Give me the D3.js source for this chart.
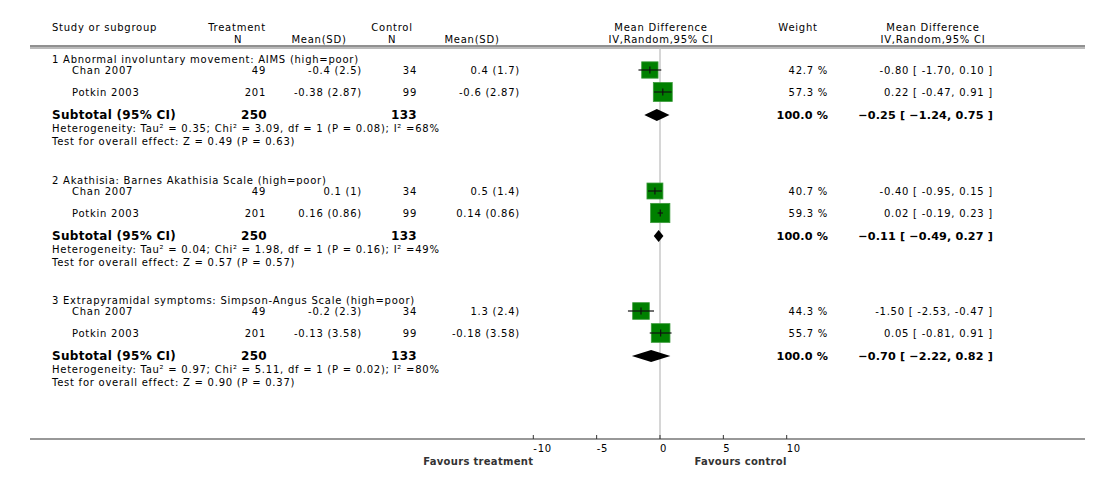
<!DOCTYPE html>
<html>
<head>
<meta charset="utf-8">
<script src="https://cdn.jsdelivr.net/npm/d3@7"></script>
<style>
  body { margin: 0; background: #fff; }
  text { font-family: "DejaVu Sans", Verdana, sans-serif; fill: #000; }
  .small { font-size: 10px; letter-spacing: 0.75px; }
  .bold { font-size: 12px; font-weight: bold; letter-spacing: 0.3px; }
  .boldr { font-size: 11.2px; font-weight: bold; letter-spacing: 0.15px; }
</style>
</head>
<body>
<div id="forest"></div>
<script>
// data
const groupTitles = [
    "1 Abnormal involuntary movement: AIMS (high=poor)",
    "2 Akathisia: Barnes Akathisia Scale (high=poor)",
    "3 Extrapyramidal symptoms: Simpson-Angus Scale (high=poor)"
];
const studyNames = ["Chan 2007", "Potkin 2003"];
const treatN = [[49, 201], [49, 201], [49, 201]];
const treatMeanSD = [["-0.4 (2.5)", "-0.38 (2.87)"], ["0.1 (1)", "0.16 (0.86)"], ["-0.2 (2.3)", "-0.13 (3.58)"]];
const controlN = [[34, 99], [34, 99], [34, 99]];
const controlMeanSD = [["0.4 (1.7)", "-0.6 (2.87)"], ["0.5 (1.4)", "0.14 (0.86)"], ["1.3 (2.4)", "-0.18 (3.58)"]];
const weights = [[42.7, 57.3], [40.7, 59.3], [44.3, 55.7]];
const meanDiff = [[-0.80, 0.22], [-0.40, 0.02], [-1.50, 0.05]];
const ciLow = [[-1.70, -0.47], [-0.95, -0.19], [-2.53, -0.81]];
const ciHigh = [[0.10, 0.91], [0.15, 0.23], [-0.47, 0.91]];

const subTreatN = [250, 250, 250];
const subControlN = [133, 133, 133];
const subMD = [-0.25, -0.11, -0.70];
const subLow = [-1.24, -0.49, -2.22];
const subHigh = [0.75, 0.27, 0.82];

const tau2 = ["0.35", "0.04", "0.97"];
const chi2 = ["3.09", "1.98", "5.11"];
const hetDf = [1, 1, 1];
const hetP = ["0.08", "0.16", "0.02"];
const i2 = [68, 49, 80];
const zVal = ["0.49", "0.57", "0.90"];
const zP = ["0.63", "0.57", "0.37"];

const axisTicks = [-10, -5, 0, 5, 10];

function drawForest() {
    const width = 1112, height = 498;
    const svg = d3.select("#forest").append("svg")
        .attr("width", width)
        .attr("height", height);

    const x = d3.scaleLinear().domain([-10, 10]).range([533.3, 786.7]);
    const boxSize = d3.scaleSqrt().domain([0, 100]).range([0, 25]);

    const lineLeft = 30, lineRight = 1085;
    const topY = 47, axisY = 439;
    const groupY = [59, 180, 300];

    const f2 = v => d3.format(".2f")(v).replace("−", "-");
    const f2b = v => d3.format(".2f")(v);

    // header
    const hdr = svg.append("g");
    const headerText = [
        [52, 27, "start", "Study or subgroup"],
        [237, 27, "middle", "Treatment"],
        [238, 39, "middle", "N"],
        [319, 39, "middle", "Mean(SD)"],
        [392, 27, "middle", "Control"],
        [392, 39, "middle", "N"],
        [472, 39, "middle", "Mean(SD)"],
        [661, 27, "middle", "Mean Difference"],
        [661, 39, "middle", "IV,Random,95% CI"],
        [798, 27, "middle", "Weight"],
        [933, 27, "middle", "Mean Difference"],
        [933, 39, "middle", "IV,Random,95% CI"]
    ];
    hdr.selectAll("text").data(headerText).enter().append("text")
        .attr("class", "small")
        .attr("x", d => d[0]).attr("y", d => d[1])
        .attr("text-anchor", d => d[2])
        .attr("dominant-baseline", "central")
        .text(d => d[3]);

    svg.append("line").attr("x1", lineLeft).attr("x2", lineRight)
        .attr("y1", topY - 1).attr("y2", topY - 1).attr("stroke", "#222").attr("stroke-width", 1);
    svg.append("line").attr("x1", lineLeft).attr("x2", lineRight)
        .attr("y1", topY + 1).attr("y2", topY + 1).attr("stroke", "#777").attr("stroke-width", 1);

    // zero line
    svg.append("line").attr("x1", x(0)).attr("x2", x(0))
        .attr("y1", topY + 1.5).attr("y2", axisY)
        .attr("stroke", "#c8c8c8").attr("stroke-width", 1.5);

    groupTitles.forEach(function(title, g) {
        const gy = groupY[g];
        const grp = svg.append("g");

        grp.append("text").attr("class", "small")
            .attr("x", 52).attr("y", gy).attr("dominant-baseline", "central")
            .text(title);

        studyNames.forEach(function(name, i) {
            const ry = gy + (i === 0 ? 11 : 33);
            const cells = [
                [72, "start", name],
                [266, "end", treatN[g][i]],
                [362, "end", treatMeanSD[g][i]],
                [417, "end", controlN[g][i]],
                [520, "end", controlMeanSD[g][i]],
                [828, "end", weights[g][i].toFixed(1) + " %"],
                [993, "end", f2(meanDiff[g][i]) + " [ " + f2(ciLow[g][i]) + ", " + f2(ciHigh[g][i]) + " ]"]
            ];
            cells.forEach(function(c) {
                grp.append("text").attr("class", "small")
                    .attr("x", c[0]).attr("y", ry)
                    .attr("text-anchor", c[1])
                    .attr("dominant-baseline", "central")
                    .text(c[2]);
            });

            const s = boxSize(weights[g][i]);
            const cx = x(meanDiff[g][i]);
            grp.append("rect")
                .attr("x", cx - s / 2).attr("y", ry - s / 2)
                .attr("width", s).attr("height", s)
                .attr("fill", "#008000")
                .attr("stroke", "#3a9a3a").attr("stroke-width", 0.8);
            grp.append("line")
                .attr("x1", x(ciLow[g][i])).attr("x2", x(ciHigh[g][i]))
                .attr("y1", ry).attr("y2", ry)
                .attr("stroke", "#111").attr("stroke-width", 1.2);
            grp.append("line")
                .attr("x1", cx).attr("x2", cx)
                .attr("y1", ry - 3.5).attr("y2", ry + 3.5)
                .attr("stroke", "#111").attr("stroke-width", 1.2);
        });

        // subtotal row
        const sy = gy + 56;
        const subCells = [
            [52, "start", "Subtotal (95% CI)", "bold"],
            [267, "end", subTreatN[g], "bold"],
            [417, "end", subControlN[g], "bold"],
            [828, "end", "100.0 %", "boldr"],
            [993, "end", f2b(subMD[g]) + " [ " + f2b(subLow[g]) + ", " + f2b(subHigh[g]) + " ]", "boldr"]
        ];
        subCells.forEach(function(c) {
            grp.append("text").attr("class", c[3])
                .attr("x", c[0]).attr("y", sy)
                .attr("text-anchor", c[1])
                .attr("dominant-baseline", "central")
                .text(c[2]);
        });

        const dh = 6;
        grp.append("path")
            .attr("d", `M${x(subLow[g])},${sy} L${x(subMD[g])},${sy - dh} L${x(subHigh[g])},${sy} L${x(subMD[g])},${sy + dh} Z`)
            .attr("fill", "#000");

        grp.append("text").attr("class", "small")
            .attr("x", 52).attr("y", sy + 13).attr("dominant-baseline", "central")
            .text("Heterogeneity: Tau² = " + tau2[g] + "; Chi² = " + chi2[g] + ", df = " + hetDf[g] +
                  " (P = " + hetP[g] + "); I² =" + i2[g] + "%");
        grp.append("text").attr("class", "small")
            .attr("x", 52).attr("y", sy + 26).attr("dominant-baseline", "central")
            .text("Test for overall effect: Z = " + zVal[g] + " (P = " + zP[g] + ")");
    });

    // bottom axis
    svg.append("line").attr("x1", lineLeft).attr("x2", lineRight)
        .attr("y1", axisY).attr("y2", axisY).attr("stroke", "#333").attr("stroke-width", 1.2);

    const ax = svg.append("g");
    ax.selectAll(".tick").data(axisTicks).enter().append("line")
        .attr("x1", d => x(d)).attr("x2", d => x(d))
        .attr("y1", axisY - 4).attr("y2", axisY)
        .attr("stroke", "#333");
    ax.selectAll(".tl").data(axisTicks).enter().append("text")
        .attr("class", "small")
        .attr("x", d => x(d)).attr("y", axisY + 9.5)
        .attr("dominant-baseline", "central")
        .text(d => d);

    svg.append("text").attr("class", "small")
        .attr("x", x(-10)).attr("y", 461)
        .attr("text-anchor", "end").attr("dominant-baseline", "central")
        .style("font-weight", "bold").style("fill", "#333").style("letter-spacing", "0.3px")
        .text("Favours treatment");
    svg.append("text").attr("class", "small")
        .attr("x", x(10)).attr("y", 461)
        .attr("text-anchor", "end").attr("dominant-baseline", "central")
        .style("font-weight", "bold").style("fill", "#333").style("letter-spacing", "0.3px")
        .text("Favours control");
}

drawForest();
</script>
</body>
</html>
